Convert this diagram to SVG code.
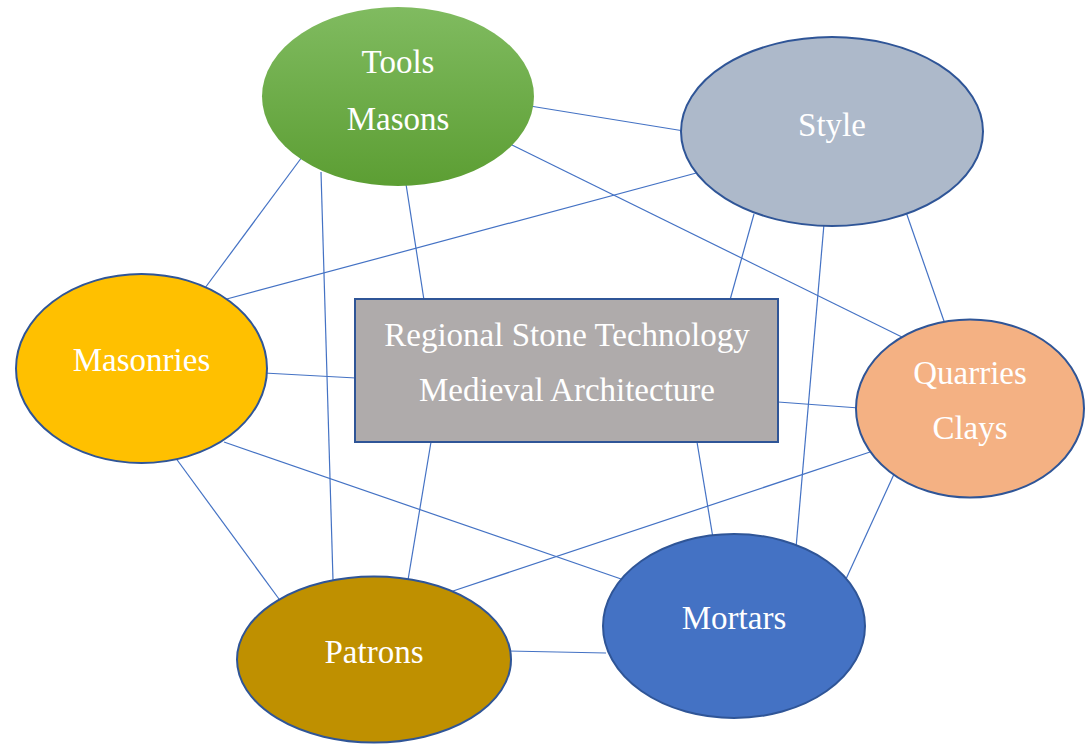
<svg xmlns="http://www.w3.org/2000/svg" width="1089" height="744" viewBox="0 0 1089 744">
<style>
.c line{stroke:#4472c4;stroke-width:1.2;fill:none}
.n{stroke:#2f5597;stroke-width:2}
text{font-family:"Liberation Serif","Times New Roman",serif;fill:#ffffff;font-size:33px;text-anchor:middle}
</style>
<defs>
<linearGradient id="g" x1="0" y1="0" x2="0" y2="1">
<stop offset="0" stop-color="#80bb60"/>
<stop offset="1" stop-color="#5c9e33"/>
</linearGradient>
</defs>
<rect width="1089" height="744" fill="#ffffff"/>
<g class="c" id="connectors">
<line x1="530" y1="106" x2="684" y2="131"/>
<line x1="510" y1="144" x2="908" y2="340"/>
<line x1="302" y1="157" x2="205" y2="288"/>
<line x1="321" y1="172" x2="333" y2="580"/>
<line x1="406" y1="184" x2="424" y2="300"/>
<line x1="700" y1="172" x2="223" y2="300"/>
<line x1="754" y1="214" x2="730" y2="300"/>
<line x1="824" y1="224" x2="796" y2="548"/>
<line x1="906" y1="212" x2="945" y2="324"/>
<line x1="264" y1="373" x2="356" y2="378"/>
<line x1="175" y1="457" x2="279" y2="599"/>
<line x1="224" y1="442" x2="624" y2="580"/>
<line x1="778" y1="402" x2="859" y2="408"/>
<line x1="431" y1="442" x2="408" y2="580"/>
<line x1="697" y1="442" x2="713" y2="538"/>
<line x1="873" y1="451" x2="450" y2="592"/>
<line x1="895" y1="472" x2="846" y2="579"/>
<line x1="508" y1="651" x2="606" y2="653"/>
</g>
<g id="tools">
<ellipse cx="398" cy="96.5" rx="136" ry="89.5" fill="url(#g)"/>
<text x="398" y="73">Tools</text>
<text x="398" y="130">Masons</text>
</g>
<g id="style">
<ellipse class="n" cx="832" cy="131.5" rx="151" ry="94.5" fill="#adb9ca"/>
<text x="832" y="136">Style</text>
</g>
<g id="masonries">
<ellipse class="n" cx="141.5" cy="368.5" rx="125.5" ry="94.5" fill="#ffc000"/>
<text x="141.5" y="371">Masonries</text>
</g>
<g id="center">
<rect class="n" x="355" y="299" width="423" height="143" fill="#afabab"/>
<text x="567" y="346" font-size="33.5">Regional Stone Technology</text>
<text x="567" y="401" font-size="33.5">Medieval Architecture</text>
</g>
<g id="quarries">
<ellipse class="n" cx="970" cy="408.5" rx="114" ry="89" fill="#f4b183"/>
<text x="970" y="384">Quarries</text>
<text x="970" y="439">Clays</text>
</g>
<g id="mortars">
<ellipse class="n" cx="734" cy="626" rx="131" ry="92" fill="#4472c4"/>
<text x="734" y="629">Mortars</text>
</g>
<g id="patrons">
<ellipse class="n" cx="374" cy="659.5" rx="137" ry="83" fill="#bf9000"/>
<text x="374" y="663">Patrons</text>
</g>
</svg>
